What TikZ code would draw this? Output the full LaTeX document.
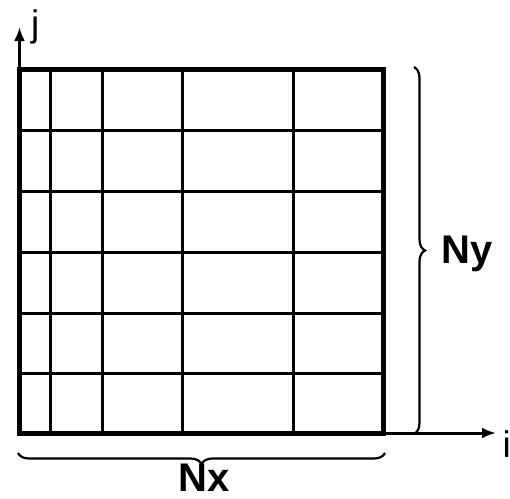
\documentclass[tikz,border=0pt]{standalone}
\usepackage{fontspec}
\setmainfont{Liberation Sans}
\usetikzlibrary{arrows.meta,decorations.pathreplacing}

\begin{document}
\begin{tikzpicture}[x=1pt, y=-1pt, >={Latex[length=14pt,width=11pt]},
    every node/.style={inner sep=0pt},
    cell line/.style={line width=3pt},
    frame line/.style={line width=5pt},
    axis/.style={line width=3pt, ->},
    brace line/.style={line width=2.2pt, decorate, decoration={brace, amplitude=11pt}},
    count label/.style={font=\fontsize{40}{44}\selectfont\bfseries},
    axis label/.style={font=\fontsize{37}{40}\selectfont}]

  \useasboundingbox (0,0) rectangle (510,498);

  % corners of the mesh
  \coordinate (ll) at (19.5,433);
  \coordinate (ul) at (19.5,69);
  \coordinate (ur) at (383.5,69);
  \coordinate (lr) at (383.5,433);

  % cell boundaries (uneven in i, even in j)
  \foreach \x in {50,102,182,293}
    \draw[cell line] (\x,69) -- (\x,433);
  \foreach \y in {130,191,252,313,373}
    \draw[cell line] (19.5,\y) -- (383.5,\y);

  % outer frame
  \draw[frame line] (ll) rectangle (ur);

  % axes
  \coordinate (jtip) at (19.5,27);
  \coordinate (itip) at (496,433);
  \draw[axis] (ul) -- (jtip);
  \draw[axis] (lr) -- (itip);
  \node[axis label, anchor=base west] (jlab) at (31,36) {j};
  \node[axis label, anchor=base west] (ilab) at (502.5,457) {i};

  % braces with the cell counts
  \coordinate (rtop) at (414,67);
  \coordinate (rbot) at (414,434);
  \coordinate (bright) at (385,453);
  \coordinate (bleft) at (18,453);
  \draw[brace line] (rtop) -- (rbot);
  \draw[brace line] (bright) -- (bleft);
  \node[count label, anchor=base west] (nylab) at (441,263) {Ny};
  \node[count label, anchor=base] (nxlab) at (204,491) {Nx};

\end{tikzpicture}
\end{document}
